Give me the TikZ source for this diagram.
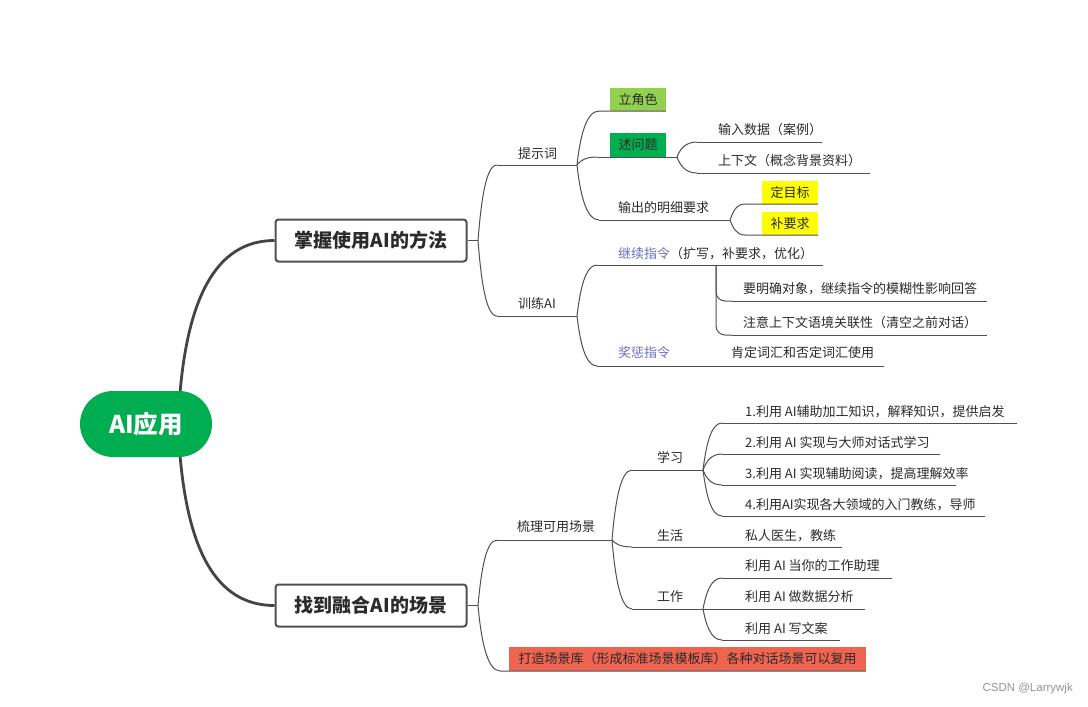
\documentclass[tikz,border=0pt]{standalone}
\usepackage{fontspec}
\setmainfont{Noto Sans CJK SC}
\newfontfamily\wmfont{Liberation Sans}
\usetikzlibrary{calc}
\definecolor{rootgreen}{HTML}{00AD50}
\definecolor{txt}{HTML}{2B2B2B}
\definecolor{lnk}{HTML}{505050}
\definecolor{rootlnk}{HTML}{444444}
\definecolor{hlgreen}{HTML}{92D050}
\definecolor{dkgreen}{HTML}{00B050}
\definecolor{hlyellow}{HTML}{FFFF00}
\definecolor{hlred}{HTML}{EF6450}
\definecolor{cmdblue}{HTML}{6670C0}
\begin{document}
\begin{tikzpicture}[x=1pt,y=-1pt,
  lbl/.style={anchor=west,inner sep=0pt,font=\fontsize{13}{15}\selectfont,text=txt},
  hbox/.style={inner sep=0pt,minimum width=56pt,minimum height=23pt,font=\fontsize{13}{15}\selectfont,text=txt},
  ul/.style={draw=lnk,line width=1pt},
  conn/.style={draw=lnk,line width=1pt,to path={.. controls ($(\tikztostart)!0.5!(\tikztostart |- \tikztotarget)+(3,0)$) and ($(\tikztotarget)!0.6!(\tikztostart |- \tikztotarget)$) .. (\tikztotarget)}},
  vconn/.style={draw=lnk,line width=1pt,rounded corners=9pt,to path={|- (\tikztotarget)}},
  rootconn/.style={draw=rootlnk,line width=2.8pt},
  mainbox/.style={draw=lnk,line width=2pt,rounded corners=3pt,fill=white,minimum width=191pt,minimum height=42pt,inner sep=0pt,font=\bfseries\fontsize{19}{22}\selectfont,text=txt}
]
\fill[white] (0,0) rectangle (1088,707);
\useasboundingbox (0,0) rectangle (1088,707);

% ---------- root and main topics ----------
\coordinate (rtop) at (180,393);
\coordinate (rbot) at (180,455);
\node[mainbox] (t1) at (371,240.5) {掌握使用AI的方法};
\node[mainbox] (t2) at (371,605.5) {找到融合AI的场景};
\draw[rootconn] (rtop) .. controls (188,300) and (215,240.5) .. (t1.west);
\draw[rootconn] (rbot) .. controls (188,548) and (215,605.5) .. (t2.west);
\node[fill=rootgreen,rounded corners=33pt,minimum width=132pt,minimum height=66pt,inner sep=0pt,text=white,font=\bfseries\fontsize{24.5}{28}\selectfont] (root) at (146,424) {AI应用};

\coordinate (f1) at (478,240.5);
\coordinate (f2) at (478,605.5);
\draw[ul] (t1.east) -- (f1);
\draw[ul] (t2.east) -- (f2);

% ---------- 提示词 ----------
\node[lbl] (ts) at (518,154) {提示词};
\coordinate (tsL) at (497,165); \coordinate (tsR) at (577,165);
\draw[ul] (tsL) -- (tsR);
\draw[conn] (f1) to (tsL);

\node[hbox,fill=hlgreen] (ljs) at (638,99.5) {立角色};
\coordinate (ljsL) at (599,111);
\draw[ul] (ljsL) -- (ljs.south east);
\draw[conn] (tsR) to (ljsL);

\node[hbox,fill=dkgreen,minimum height=24pt] (swt) at (638,145) {述问题};
\coordinate (swtL) at (597,157); \coordinate (swtR) at (677,157);
\draw[ul] (swtL) -- (swtR);
\draw[conn] (tsR) to (swtL);

\node[lbl] (srsj) at (718,130) {输入数据（案例）};
\coordinate (srsjL) at (697,142); \coordinate (srsjR) at (822,142);
\draw[ul] (srsjL) -- (srsjR);
\draw[conn] (swtR) to (srsjL);

\node[lbl] (sxw) at (718,161) {上下文（概念背景资料）};
\coordinate (sxwL) at (697,173); \coordinate (sxwR) at (870,173);
\draw[ul] (sxwL) -- (sxwR);
\draw[conn] (swtR) to (sxwL);

\node[lbl] (scyq) at (618,208) {输出的明细要求};
\coordinate (scyqL) at (599,220); \coordinate (scyqR) at (730,220);
\draw[ul] (scyqL) -- (scyqR);
\draw[conn] (tsR) to (scyqL);

\node[hbox,fill=hlyellow] (dmb) at (790,192.5) {定目标};
\coordinate (dmbL) at (745,204);
\draw[ul] (dmbL) -- (dmb.south east);
\draw[conn] (scyqR) to (dmbL);

\node[hbox,fill=hlyellow] (byq) at (790,223.5) {补要求};
\coordinate (byqL) at (745,235);
\draw[ul] (byqL) -- (byq.south east);
\draw[conn] (scyqR) to (byqL);

% ---------- 训练AI ----------
\node[lbl] (xl) at (518,304) {训练AI};
\coordinate (xlL) at (497,316); \coordinate (xlR) at (577,316);
\draw[ul] (xlL) -- (xlR);
\draw[conn] (f1) to (xlL);

\node[lbl] (jx) at (618,254) {{\color{cmdblue}继续指令}（扩写，补要求，优化）};
\coordinate (jxL) at (597,265); \coordinate (jxR) at (823,265);
\coordinate (jxF) at (716,265);
\draw[ul] (jxL) -- (jxR);
\draw[conn] (xlR) to (jxL);

\node[lbl] (ymq) at (743,289) {要明确对象，继续指令的模糊性影响回答};
\coordinate (ymqL) at (732,301); \coordinate (ymqR) at (987,301);
\draw[ul] (ymqL) -- (ymqR);
\draw[vconn] (jxF) to (ymqL);

\node[lbl] (zy) at (743,323) {注意上下文语境关联性（清空之前对话）};
\coordinate (zyL) at (732,335); \coordinate (zyR) at (987,335);
\draw[ul] (zyL) -- (zyR);
\draw[vconn] (jxF) to (zyL);

\node[lbl] (jc) at (618,353) {\color{cmdblue}奖惩指令};
\coordinate (jcL) at (597,366); \coordinate (jcR) at (884,366);
\draw[ul] (jcL) -- (jcR);
\draw[conn] (xlR) to (jcL);
\node[lbl] (kd) at (731,353) {肯定词汇和否定词汇使用};

% ---------- 梳理可用场景 ----------
\node[lbl] (sl) at (517,527) {梳理可用场景};
\coordinate (slL) at (497,540); \coordinate (slR) at (612,540);
\draw[ul] (slL) -- (slR);
\draw[conn] (f2) to (slL);

\node[lbl] (xx) at (657,457) {学习};
\coordinate (xxL) at (632,470); \coordinate (xxR) at (703,470);
\draw[ul] (xxL) -- (xxR);
\draw[conn] (slR) to (xxL);

\node[lbl] (x1) at (745,412) {1.利用 AI辅助加工知识，解释知识，提供启发};
\coordinate (x1L) at (722,423); \coordinate (x1R) at (1017,423);
\draw[ul] (x1L) -- (x1R);
\draw[conn] (xxR) to (x1L);

\node[lbl] (x2) at (745,443) {2.利用 AI 实现与大师对话式学习};
\coordinate (x2L) at (722,454); \coordinate (x2R) at (940,454);
\draw[ul] (x2L) -- (x2R);
\draw[conn] (xxR) to (x2L);

\node[lbl] (x3) at (745,474) {3.利用 AI 实现辅助阅读，提高理解效率};
\coordinate (x3L) at (722,485); \coordinate (x3R) at (956,485);
\draw[ul] (x3L) -- (x3R);
\draw[conn] (xxR) to (x3L);

\node[lbl] (x4) at (745,505) {4.利用AI实现各大领域的入门教练，导师};
\coordinate (x4L) at (722,516); \coordinate (x4R) at (985,516);
\draw[ul] (x4L) -- (x4R);
\draw[conn] (xxR) to (x4L);

\node[lbl] (sh) at (657,536) {生活};
\coordinate (shL) at (632,547); \coordinate (shR) at (842,547);
\draw[ul] (shL) -- (shR);
\draw[conn] (slR) to (shL);
\node[lbl] (sr) at (745,536) {私人医生，教练};

\node[lbl] (gz) at (657,597) {工作};
\coordinate (gzL) at (632,609); \coordinate (gzR) at (865,609);
\coordinate (gzF) at (703,609);
\draw[ul] (gzL) -- (gzR);
\draw[conn] (slR) to (gzL);
\node[lbl] (sjfx) at (745,597) {利用 AI 做数据分析};

\node[lbl] (zl) at (745,566) {利用 AI 当你的工作助理};
\coordinate (zlL) at (722,578); \coordinate (zlR) at (892,578);
\draw[ul] (zlL) -- (zlR);
\draw[conn] (gzF) to (zlL);

\node[lbl] (wa) at (745,629) {利用 AI 写文案};
\coordinate (waL) at (722,640); \coordinate (waR) at (840,640);
\draw[ul] (waL) -- (waR);
\draw[conn] (gzF) to (waL);

% ---------- 打造场景库 ----------
\node[hbox,fill=hlred,minimum width=357pt,minimum height=24pt] (dz) at (687.5,659) {打造场景库（形成标准场景模板库）各种对话场景可以复用};
\coordinate (dzL) at (500,671);
\draw[ul] (dzL) -- (dz.south east);
\draw[conn] (f2) to (dzL);

% ---------- watermark ----------
\node[anchor=east,inner sep=0pt,font=\wmfont\fontsize{11.5}{13}\selectfont,text=black!42] (wm) at (1073,689) {CSDN @Larrywjk};
\end{tikzpicture}
\end{document}
